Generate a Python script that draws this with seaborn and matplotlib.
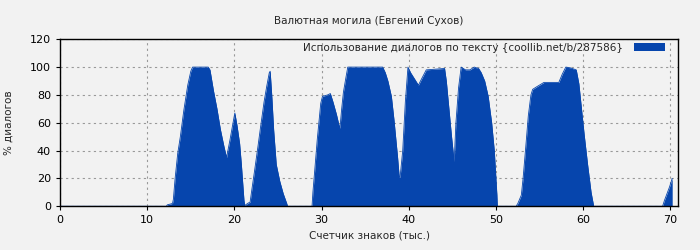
import matplotlib
matplotlib.use("Agg")
import matplotlib.pyplot as plt
from matplotlib.patches import Patch
import seaborn as sns
import pandas as pd

title = "Валютная могила (Евгений Сухов)"
xlabel = "Счетчик знаков (тыс.)"
ylabel = "% диалогов"
legend_label = "Использование диалогов по тексту {coollib.net/b/287586}"
xticks = [0, 10, 20, 30, 40, 50, 60, 70]
yticks = [0, 20, 40, 60, 80, 100, 120]

x_vals = [0, 12.2, 12.3, 12.9, 13.0, 13.2, 13.5, 13.8, 14.2, 14.65, 15.0, 15.2,
          17.0, 17.2, 17.6, 18.0, 18.4, 18.8, 19.1, 19.5, 19.9, 20.05, 20.3, 20.6,
          20.8, 21.1, 21.2, 21.5, 21.8, 22.0, 22.3, 22.7, 23.0, 23.4, 23.7, 24.0,
          24.1, 24.3, 24.5, 24.8, 25.2, 25.6, 26.0, 26.1, 28.9, 29.0, 29.2, 29.5,
          29.9, 30.1, 30.7, 31.0, 31.3, 31.7, 32.0, 32.1, 32.3, 32.5, 32.8, 33.0,
          37.0, 37.3, 37.6, 38.0, 38.3, 38.7, 38.9, 39.0, 39.3, 39.6, 39.9, 40.2,
          40.7, 41.1, 41.5, 42.0, 44.1, 44.3, 44.6, 44.9, 45.2, 45.4, 45.7, 46.0,
          46.5, 47.0, 47.5, 48.0, 48.3, 48.7, 49.1, 49.5, 49.8, 50.1, 50.15, 52.3,
          52.5, 52.9, 53.1, 53.4, 53.7, 54.0, 54.2, 54.7, 55.5, 57.2, 57.6, 58.0,
          58.5, 59.2, 59.5, 59.8, 60.1, 60.5, 60.9, 61.2, 69.1, 69.3, 69.6, 69.9,
          70.2]
y_vals = [0, 0, 1, 2, 5, 20, 38, 50, 69, 87, 97, 100,
          100, 98, 83, 70, 55, 43, 35, 48, 62, 67, 58, 45,
          30, 4, 0.5, 2, 3, 12, 25, 43, 57, 75, 86, 96,
          97, 78, 55, 30, 18, 9, 2, 0, 0, 10, 25, 48,
          74, 79, 80, 81, 75, 66, 58, 56, 70, 82, 93, 100,
          100, 96, 90, 79, 62, 36, 21, 21, 40, 75, 100, 96,
          91, 87, 92, 98, 99, 90, 70, 50, 32, 60, 85, 100,
          98, 98, 100, 99, 96, 90, 79, 60, 40, 8, 0, 0,
          2, 8, 20, 42, 65, 80, 84, 86, 89, 89, 95, 100,
          99.5, 98, 88, 70, 52, 30, 10, 0, 0, 4, 9, 14,
          20]

df = pd.DataFrame({"x": x_vals, "y": y_vals})

bg = "#f2f2f2"
fill_color = "#0645ad"

sns.set_theme(style="ticks", rc={
    "figure.facecolor": bg,
    "axes.facecolor": bg,
    "axes.edgecolor": "black",
    "axes.linewidth": 1.0,
    "xtick.color": "black",
    "ytick.color": "black",
    "xtick.major.size": 3,
    "ytick.major.size": 3,
})
plt.rcParams["font.family"] = ["DejaVu Sans"]

fig = plt.figure(figsize=(7, 2.5), dpi=100)
ax = fig.add_axes([0.0857, 0.175, 0.969 - 0.0857, 0.843 - 0.175])

sns.lineplot(data=df, x="x", y="y", ax=ax, color=fill_color, linewidth=0.6)
ax.fill_between(df["x"], 0, df["y"], color=fill_color, linewidth=0)

ax.set_xlim(0, 70.9)
ax.set_ylim(0, 120)
ax.set_xticks(xticks)
ax.set_yticks(yticks)
ax.tick_params(labelsize=8, length=3, width=0.8)
for s in ax.spines.values():
    s.set_visible(True)
    s.set_color("black")
    s.set_linewidth(1.0)

ax.grid(True, linestyle=(0, (2, 3)), color="#999999", linewidth=0.8)
ax.set_axisbelow(True)

ax.set_title(title, fontsize=7.5, pad=11)
ax.set_xlabel(xlabel, fontsize=7.5, labelpad=4)
ax.set_ylabel(ylabel, fontsize=7.5, labelpad=12)

handle = Patch(facecolor=fill_color, edgecolor="none")
ax.legend([handle], [legend_label], loc="upper right", frameon=False,
          bbox_to_anchor=(0.9817, 0.991),
          markerfirst=False, fontsize=7.5, handlelength=3.0, handleheight=0.8,
          handletextpad=1.0, borderaxespad=0.0, borderpad=0.2)

fig.savefig("out.png", dpi=100, facecolor=bg)
